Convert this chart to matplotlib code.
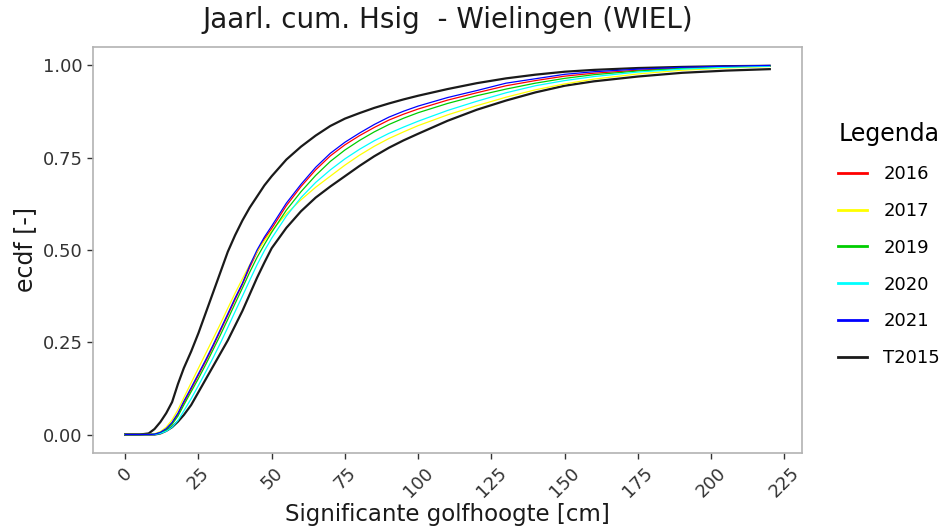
import matplotlib
matplotlib.use("Agg")
import matplotlib.pyplot as plt

hs = [0, 5, 8, 10, 12, 14, 16, 18, 20, 22.5, 25, 27.5, 30, 32.5, 35, 37.5, 40, 42.5, 45, 47.5,
      50, 55, 60, 65, 70, 75, 80, 85, 90, 95, 100, 110, 120, 130, 140, 150, 160, 175, 190, 205, 220]

# jaarlijkse ecdf's
ecdf_2016 = [0, 0, 0, 0.001, 0.005, 0.014, 0.03, 0.055, 0.086, 0.123, 0.161, 0.199, 0.239, 0.281, 0.323, 0.366, 0.407, 0.453, 0.494, 0.53,
             0.558, 0.62, 0.672, 0.717, 0.755, 0.785, 0.81, 0.832, 0.852, 0.868, 0.882, 0.906, 0.926, 0.945, 0.959, 0.971, 0.979, 0.987, 0.993, 0.997, 0.999]
ecdf_2017 = [0, 0, 0, 0.002, 0.008, 0.02, 0.04, 0.067, 0.1, 0.14, 0.18, 0.22, 0.26, 0.3, 0.342, 0.383, 0.422, 0.46, 0.495, 0.525,
             0.552, 0.598, 0.636, 0.67, 0.70, 0.73, 0.757, 0.781, 0.802, 0.82, 0.837, 0.866, 0.891, 0.914, 0.934, 0.95, 0.963, 0.977, 0.987, 0.993, 0.997]
ecdf_2019 = [0, 0, 0, 0.001, 0.005, 0.013, 0.028, 0.05, 0.08, 0.116, 0.152, 0.19, 0.23, 0.27, 0.312, 0.355, 0.397, 0.44, 0.48, 0.515,
             0.548, 0.608, 0.658, 0.702, 0.74, 0.771, 0.797, 0.82, 0.84, 0.857, 0.872, 0.897, 0.918, 0.936, 0.952, 0.965, 0.975, 0.985, 0.992, 0.996, 0.999]
ecdf_2020 = [0, 0, 0, 0, 0.003, 0.009, 0.02, 0.038, 0.064, 0.097, 0.133, 0.17, 0.208, 0.248, 0.29, 0.333, 0.375, 0.418, 0.46, 0.498,
             0.532, 0.592, 0.642, 0.683, 0.717, 0.747, 0.773, 0.796, 0.816, 0.833, 0.849, 0.878, 0.903, 0.926, 0.945, 0.959, 0.97, 0.982, 0.99, 0.995, 0.998]
ecdf_2021 = [0, 0, 0, 0.001, 0.006, 0.016, 0.033, 0.058, 0.09, 0.127, 0.165, 0.203, 0.243, 0.285, 0.327, 0.37, 0.41, 0.458, 0.50, 0.535,
             0.565, 0.627, 0.678, 0.724, 0.762, 0.792, 0.817, 0.84, 0.86, 0.876, 0.89, 0.913, 0.932, 0.952, 0.964, 0.976, 0.983, 0.99, 0.995, 0.998, 1.0]

# T2015 band (boven- en ondergrens)
t2015_boven = [0, 0, 0.003, 0.015, 0.034, 0.058, 0.088, 0.137, 0.18, 0.225, 0.275, 0.33, 0.385, 0.44, 0.495, 0.54, 0.58, 0.615, 0.645, 0.675,
               0.70, 0.745, 0.78, 0.81, 0.836, 0.856, 0.871, 0.885, 0.897, 0.908, 0.918, 0.936, 0.952, 0.965, 0.975, 0.983, 0.988, 0.993, 0.996, 0.998, 0.999]
t2015_onder = [0, 0, 0, 0, 0.003, 0.01, 0.02, 0.035, 0.053, 0.08, 0.115, 0.15, 0.185, 0.22, 0.255, 0.295, 0.335, 0.38, 0.425, 0.466,
               0.505, 0.56, 0.605, 0.642, 0.672, 0.70, 0.728, 0.754, 0.777, 0.797, 0.815, 0.85, 0.88, 0.905, 0.927, 0.945, 0.957, 0.97, 0.98, 0.986, 0.99]

jaren = ["2016", "2017", "2019", "2020", "2021"]
reeksen = [ecdf_2016, ecdf_2017, ecdf_2019, ecdf_2020, ecdf_2021]
kleuren = ["#ff0000", "#ffff00", "#00cd00", "#00ffff", "#0000ff"]

plt.rcParams['font.family'] = ['DejaVu Sans']
fig = plt.figure(figsize=(9.46, 5.31), dpi=100)
ax = fig.add_axes([0.0983, 0.1469, 0.7495, 0.7646])

# Tracer
ax.plot(hs, t2015_boven, color="#1a1a1a", lw=1.6, label="T2015")
ax.plot(hs, t2015_onder, color="#1a1a1a", lw=1.6)
for jaar, y, kleur in zip(jaren, reeksen, kleuren):
    ax.plot(hs, y, color=kleur, lw=0.9, label=jaar)

ax.set_xlim(-11, 231)
ax.set_ylim(-0.05, 1.05)
ax.set_xticks(range(0, 226, 25))
ax.set_yticks([0, 0.25, 0.5, 0.75, 1.0])
ax.set_yticklabels(["0.00", "0.25", "0.50", "0.75", "1.00"])
for spine in ax.spines.values():
    spine.set_color("#b3b3b3")
    spine.set_linewidth(1.2)
ax.tick_params(colors="#333333", labelcolor="#333333", labelsize=13, length=4, width=1)
ax.tick_params(axis="x", pad=4)
plt.setp(ax.get_xticklabels(), rotation=45, ha="center")

ax.set_xlabel("Significante golfhoogte [cm]", fontsize=16.5, color="#1a1a1a", labelpad=1)
ax.set_ylabel("ecdf [-]", fontsize=17, color="#1a1a1a")
ax.set_title("Jaarl. cum. Hsig  - Wielingen (WIEL)", fontsize=20, color="#1a1a1a", pad=14)

# legenda: jaren eerst, T2015 als laatste
handles, labels = ax.get_legend_handles_labels()
handles = handles[1:] + handles[:1]
labels = labels[1:] + labels[:1]
leg = fig.legend(handles, labels, title="Legenda", loc="upper left", bbox_to_anchor=(0.869, 0.80),
                 frameon=False, fontsize=13, title_fontsize=17, handlelength=1.6, labelspacing=1.04,
                 handletextpad=0.9)
leg._legend_box.align = "left"
for line in leg.get_lines():
    line.set_linewidth(2)

plt.savefig("out.png", dpi=100)
plt.close()
